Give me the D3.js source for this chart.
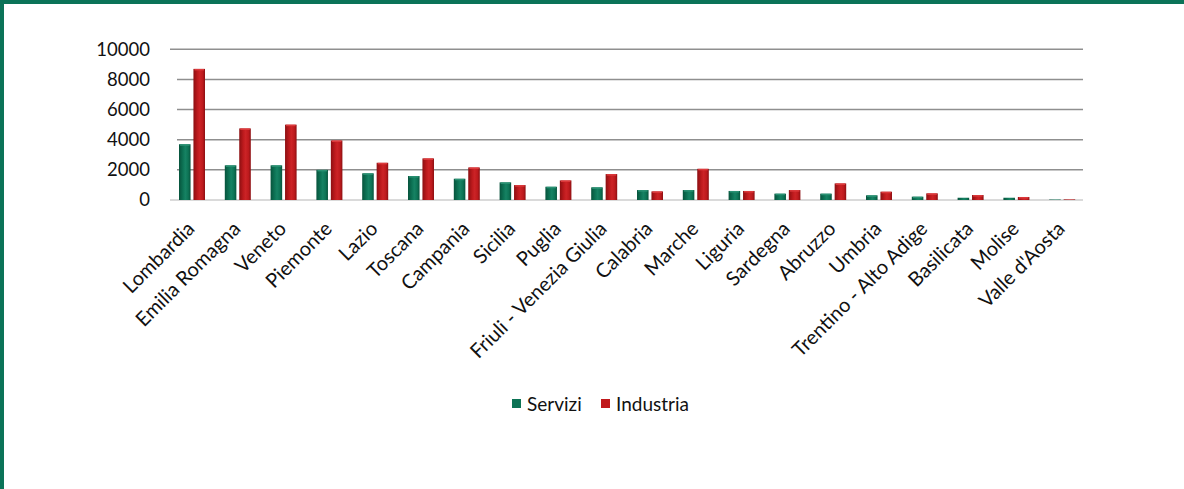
<!DOCTYPE html>
<html>
<head>
<meta charset="utf-8">
<script src="https://cdn.jsdelivr.net/npm/d3@7/dist/d3.min.js"></script>
<style>
  html, body { margin: 0; padding: 0; background: #fff; }
  svg { display: block; }
  text { font-family: Lato, "Open Sans", sans-serif; fill: #111; }
</style>
</head>
<body>
<svg id="chart" width="1184" height="489"></svg>
<script>
// Regions, ordered by number of firms in the services sector
const regions = ["Lombardia", "Emilia Romagna", "Veneto", "Piemonte", "Lazio", "Toscana",
  "Campania", "Sicilia", "Puglia", "Friuli - Venezia Giulia", "Calabria", "Marche",
  "Liguria", "Sardegna", "Abruzzo", "Umbria", "Trentino - Alto Adige", "Basilicata",
  "Molise", "Valle d'Aosta"];
const servizi = [3700, 2300, 2300, 2000, 1770, 1590, 1410, 1170, 880, 840, 660, 660,
  600, 420, 420, 310, 220, 150, 150, 30];
const industria = [8700, 4750, 5000, 3950, 2470, 2760, 2160, 990, 1300, 1720, 570, 2070,
  600, 660, 1100, 550, 440, 330, 200, 40];
const seriesNames = ["Servizi", "Industria"];
const yTicks = [0, 2000, 4000, 6000, 8000, 10000];

const svg = d3.select("#chart");
const W = 1184, H = 489;

// Frame: green rule along the top and left edges
svg.append("rect").attr("x", 0).attr("y", 0).attr("width", W).attr("height", 4).attr("fill", "#0b7358");
svg.append("rect").attr("x", 0).attr("y", 0).attr("width", 4).attr("height", H).attr("fill", "#0b7358");

const x = d3.scaleBand().domain(regions).range([169, 1085]).padding(0);
const xs = d3.scaleBand().domain(seriesNames).range([10, 36]).paddingInner(0.2);
const y = d3.scaleLinear().domain([0, 10000]).range([200, 49.3]);

// Bar shading gradients
const defs = svg.append("defs");
function shade(id, edge, mid, hi) {
  const g = defs.append("linearGradient").attr("id", id).attr("x1", "0").attr("x2", "1").attr("y1", "0").attr("y2", "0");
  g.append("stop").attr("offset", "0%").attr("stop-color", edge);
  g.append("stop").attr("offset", "35%").attr("stop-color", mid);
  g.append("stop").attr("offset", "55%").attr("stop-color", hi);
  g.append("stop").attr("offset", "80%").attr("stop-color", mid);
  g.append("stop").attr("offset", "100%").attr("stop-color", edge);
}
shade("gServizi", "#07533c", "#0d7355", "#168263");
shade("gIndustria", "#8c0f12", "#bd1a1d", "#cc2326");
const fills = { Servizi: "url(#gServizi)", Industria: "url(#gIndustria)" };
const swatch = { Servizi: "#0d7355", Industria: "#c0191c" };

// Gridlines
const grid = svg.append("g");
grid.selectAll("line").data(yTicks.filter(d => d > 0)).join("line")
  .attr("x1", d => d === 10000 ? 170 : 177).attr("x2", 1083)
  .attr("y1", d => y(d)).attr("y2", d => y(d))
  .attr("stroke", "#8f8f8f").attr("stroke-width", 1.5);
grid.append("line").attr("x1", 170).attr("x2", 1083).attr("y1", y(0)).attr("y2", y(0))
  .attr("stroke", "#dadada").attr("stroke-width", 2);

// Y axis labels
const yAxis = d3.axisLeft(y).tickValues(yTicks).tickSize(0).tickPadding(0).tickFormat(d3.format("d"));
const ya = svg.append("g").attr("transform", "translate(150,0)").call(yAxis);
ya.select(".domain").remove();
ya.selectAll("text").attr("font-size", 18.5).attr("font-family", "Lato, sans-serif").attr("fill", "#111");

// Bars
const rows = regions.map((r, i) => ({ region: r, values: [
  { key: "Servizi", value: servizi[i] }, { key: "Industria", value: industria[i] }] }));
const groups = svg.append("g").selectAll("g").data(rows).join("g")
  .attr("transform", d => `translate(${x(d.region)},0)`);
groups.selectAll("rect").data(d => d.values).join("rect")
  .attr("x", d => xs(d.key)).attr("width", xs.bandwidth())
  .attr("y", d => y(d.value)).attr("height", d => y(0) - y(d.value))
  .attr("fill", d => fills[d.key]);
// light cap on each bar top
groups.selectAll("line.cap").data(d => d.values.filter(v => y(0) - y(v.value) > 3)).join("line")
  .attr("class", "cap")
  .attr("x1", d => xs(d.key) + 1).attr("x2", d => xs(d.key) + xs.bandwidth() - 1)
  .attr("y1", d => y(d.value) + 0.8).attr("y2", d => y(d.value) + 0.8)
  .attr("stroke", d => d.key === "Servizi" ? "#2a9173" : "#dc3a3c").attr("stroke-width", 1.5);

// X axis labels, rotated
const xa = svg.append("g");
xa.selectAll("text").data(regions).join("text")
  .attr("transform", d => `translate(${x(d) + x.bandwidth() / 2 + 4},${230}) rotate(-45)`)
  .attr("text-anchor", "end")
  .attr("font-size", 20)
  .text(d => d);

// Legend
const legend = svg.append("g").attr("transform", "translate(512,399)");
const items = [{ key: "Servizi", x: 0 }, { key: "Industria", x: 89 }];
const li = legend.selectAll("g").data(items).join("g").attr("transform", d => `translate(${d.x},0)`);
li.append("rect").attr("width", 9).attr("height", 9).attr("fill", d => swatch[d.key]);
li.append("text").attr("x", 15).attr("y", 11.5).attr("font-size", 19).text(d => d.key);
</script>
</body>
</html>
